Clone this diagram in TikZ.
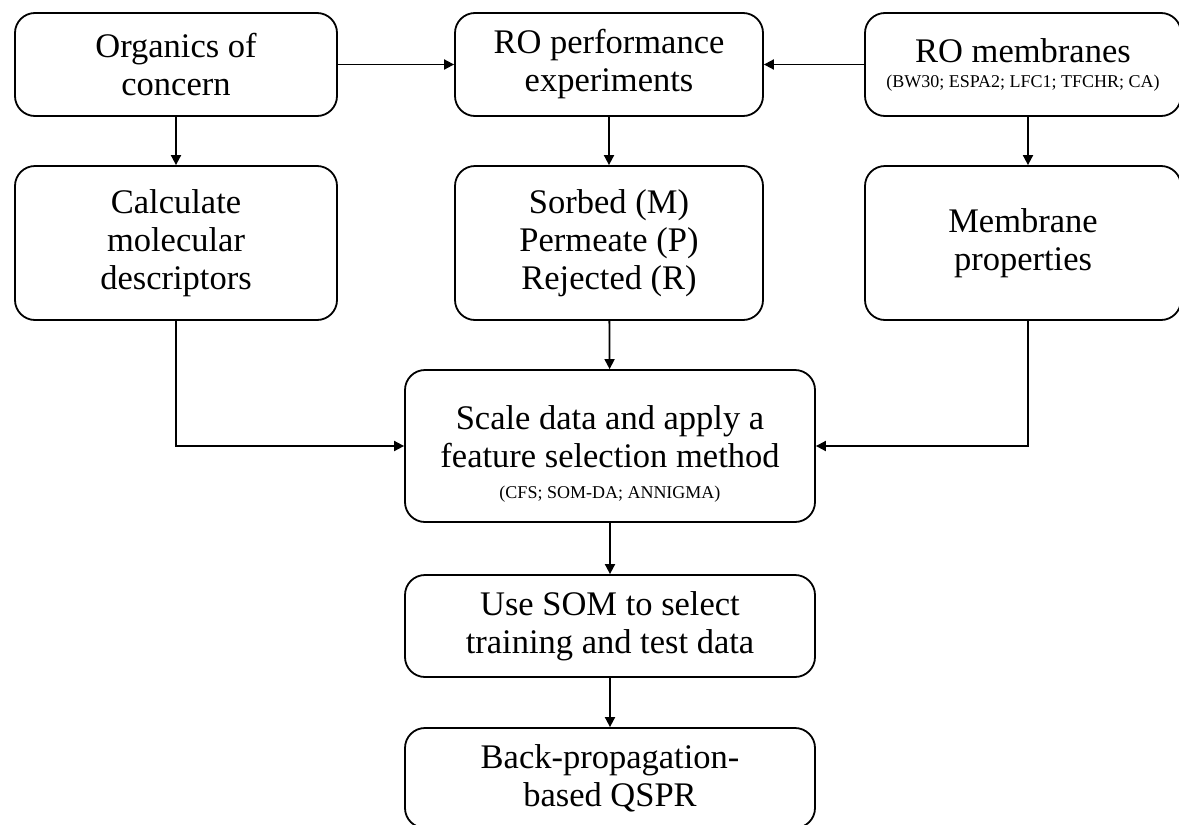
\documentclass[tikz,border=0pt]{standalone}
\usepackage{fontspec}
\setmainfont{Liberation Serif}
\usetikzlibrary{arrows.meta}
\newcommand{\smalltxt}{\fontsize{18}{20}\selectfont}
\begin{document}
\begin{tikzpicture}[x=1pt,y=-1pt,
  box/.style={draw, line width=1.8pt, rounded corners=20pt, align=center,
    inner sep=0pt, font=\fontsize{34.5}{38}\selectfont},
  arr/.style={line width=1.8pt, -{Triangle[length=10pt,width=10pt]}}]
\useasboundingbox (0,0) rectangle (1179,825);
\node[box, minimum width=322pt, minimum height=103pt] (org) at (176,64.5) {Organics of\\concern};
\node[box, minimum width=322pt, minimum height=154pt] (calc) at (176,243) {Calculate\\molecular\\descriptors};
\node[box, minimum width=308pt, minimum height=103pt] (ro) at (609,64.5) {RO performance\\experiments};
\node[box, minimum width=308pt, minimum height=154pt] (sorb) at (609,243) {Sorbed (M)\\Permeate (P)\\Rejected (R)};
\node[box, minimum width=316pt, minimum height=103pt] (mem) at (1023,64.5) {RO membranes\\[-13pt]{\smalltxt (BW30; ESPA2; LFC1; TFCHR; CA)}};
\node[box, minimum width=316pt, minimum height=154pt] (prop) at (1023,243) {Membrane\\properties};
\node[box, minimum width=410pt, minimum height=152pt] (scale) at (610,446) {\rule{0pt}{40pt}Scale data and apply a\\feature selection method\\[-7pt]{\smalltxt (CFS; SOM-DA; ANNIGMA)}};
\node[box, minimum width=410pt, minimum height=102pt] (som) at (610,626) {Use SOM to select\\training and test data};
\node[box, minimum width=410pt, minimum height=100pt] (bp) at (610,778) {Back-propagation-\\based QSPR};
\draw[arr] (org) -- (ro);
\draw[arr] (mem) -- (ro);
\draw[arr] (org) -- (calc);
\draw[arr] (ro) -- (sorb);
\draw[arr] ([xshift=5pt]mem.south) -- ([xshift=5pt]prop.north);
\draw[arr] (sorb) -- (scale);
\draw[arr] (calc.south) |- (scale.west);
\draw[arr] ([xshift=5pt]prop.south) |- (scale.east);
\draw[arr] (scale) -- (som);
\draw[arr] (som) -- (bp);
\end{tikzpicture}
\end{document}
